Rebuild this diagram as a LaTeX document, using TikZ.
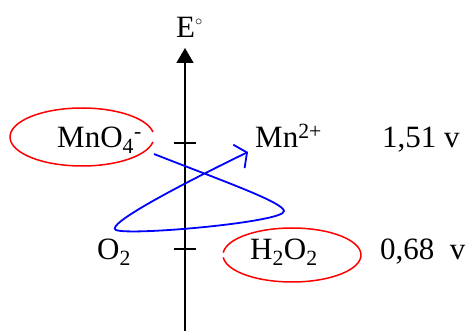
\documentclass[tikz,border=0pt]{standalone}
\usepackage{fontspec}
\setmainfont{Liberation Serif}
\usetikzlibrary{arrows.meta}

\begin{document}
\begin{tikzpicture}[
    x=1pt, y=-1pt,
    species/.style={anchor=base west, inner sep=0pt,
                    font=\fontsize{31}{36}\selectfont},
    ring/.style={red, line width=1.5pt},
    transfer/.style={blue, line width=1.8pt},
    axis/.style={line width=1.6pt}
  ]
    \useasboundingbox (0,0) rectangle (467,331);

    % Axis
    \coordinate (axbot) at (185,331);
    \coordinate (axtop) at (185,48);
    \draw[axis, -{Triangle[width=17pt,length=15pt]}] (axbot) -- (axtop);
    \node[species] (elabel) at (176,38)
      {E\textsuperscript{\raisebox{0.35ex}{$\scriptstyle\circ$}}};

    % Ticks
    \coordinate (tickhi) at (185,143);
    \coordinate (ticklo) at (185,249);
    \draw[axis] ([xshift=-11pt]tickhi) -- ([xshift=11pt]tickhi);
    \draw[axis] ([xshift=-11pt]ticklo) -- ([xshift=11pt]ticklo);

    % Couple MnO4- / Mn2+
    \node[species] (mno) at (57,148) {MnO\textsubscript{4}\textsuperscript{-}};
    \node[species] (mn) at (255,148) {Mn\textsuperscript{2+}};
    \node[species] (ehi) at (382,148) {1,51 v};
    \draw[ring] (82,137) ++(10:72 and 29)
      arc[start angle=10, end angle=350, x radius=72, y radius=29];

    % Couple O2 / H2O2
    \node[species] (ox) at (97,260) {O\textsubscript{2}};
    \node[species] (hpo) at (250,260) {H\textsubscript{2}O\textsubscript{2}};
    \node[species] (elo) at (380,260) {0,68~~v};
    \draw[ring] (292,255) ++(185:69 and 27)
      arc[start angle=185, end angle=535, x radius=69, y radius=27];

    % Gamma
    \coordinate (gstart) at (154,154);
    \coordinate (gend) at (248,152);
    \draw[transfer, -{Straight Barb[length=9pt,width=26pt]}] (gstart)
      .. controls (220,180) and (283,202) .. (284,211)
      .. controls (286,222) and (130,236) .. (116,230)
      .. controls (104,225) and (180,185) .. (gend);
  \end{tikzpicture}
\end{document}
